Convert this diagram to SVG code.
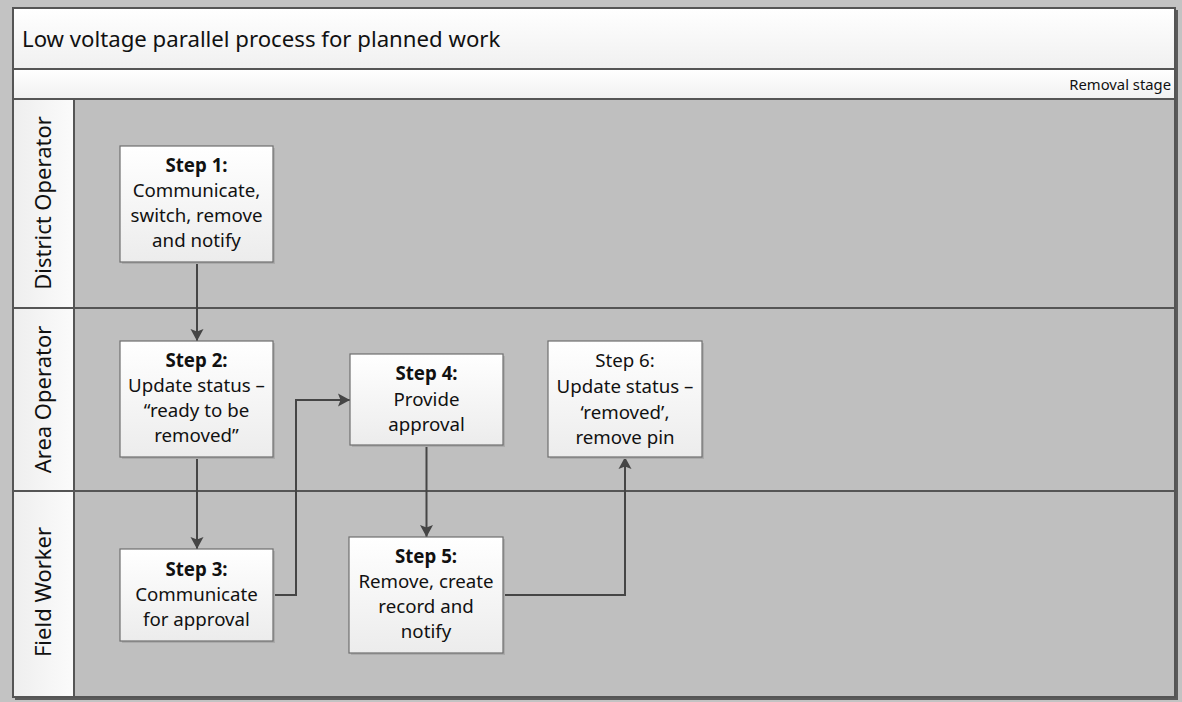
<svg xmlns="http://www.w3.org/2000/svg" width="1182" height="702" viewBox="0 0 1182 702">
<style>
.t{font-family:"Noto Sans","Open Sans","Liberation Sans",sans-serif;fill:#111;}
.bx{font-size:18.7px;text-anchor:middle;}
.b{font-weight:bold;}
.lane{font-size:22px;text-anchor:middle;}
.node rect.box{fill:url(#gBox);stroke:#6e6e6e;stroke-width:1.2;}
.node rect.sh{fill:#ababab;}
.conn path{fill:none;stroke:#454545;stroke-width:2;}
.sep{stroke:#555;stroke-width:2;fill:none;}
</style>
<defs>
<linearGradient id="gBox" x1="0" y1="0" x2="0" y2="1"><stop offset="0" stop-color="#ffffff"/><stop offset="1" stop-color="#ececec"/></linearGradient>
<linearGradient id="gHead" x1="0" y1="0" x2="0" y2="1"><stop offset="0" stop-color="#ffffff"/><stop offset="1" stop-color="#f0f0f0"/></linearGradient>
<linearGradient id="gCol" x1="0" y1="0" x2="1" y2="0"><stop offset="0" stop-color="#eeeeee"/><stop offset="1" stop-color="#fbfbfb"/></linearGradient>
<marker id="arr" markerWidth="14" markerHeight="14" refX="12" refY="7" orient="auto" markerUnits="userSpaceOnUse">
<path d="M0,0.5 L12,7 L0,13.5 L2.5,7 Z" fill="#454545"/>
</marker>
</defs>
<rect x="0" y="0" width="1182" height="702" fill="#c3c3c3"/>
<rect x="15" y="10" width="1163" height="690" fill="#5a5a5a"/>
<rect x="13" y="8" width="1162" height="61" fill="url(#gHead)"/>
<rect x="13" y="69" width="1162" height="30" fill="url(#gHead)"/>
<rect x="13" y="99" width="61" height="598" fill="url(#gCol)"/>
<rect x="74" y="99" width="1101" height="598" fill="#bfbfbf"/>
<g id="frame">
<rect x="13" y="8" width="1162" height="689" class="sep"/>
<line x1="13" y1="69" x2="1175" y2="69" class="sep"/>
<line x1="13" y1="99" x2="1175" y2="99" class="sep"/>
<line x1="74" y1="99" x2="74" y2="697" class="sep"/>
<line x1="13" y1="308" x2="1175" y2="308" class="sep"/>
<line x1="13" y1="491" x2="1175" y2="491" class="sep"/>
</g>
<text class="t" x="22" y="46.5" font-size="22.2">Low voltage parallel process for planned work</text>
<text class="t" x="1171" y="90" font-size="14.8" text-anchor="end">Removal stage</text>
<g id="lane-district"><text class="t lane" transform="translate(51,203) rotate(-90)">District Operator</text></g>
<g id="lane-area"><text class="t lane" transform="translate(51,399.5) rotate(-90)">Area Operator</text></g>
<g id="lane-field"><text class="t lane" transform="translate(51,592) rotate(-90)">Field Worker</text></g>

<g class="conn" id="connectors">
<path d="M197,262 V341" marker-end="url(#arr)"/>
<path d="M197,457 V549" marker-end="url(#arr)"/>
<path d="M273,595 H296 V400 H350" marker-end="url(#arr)"/>
<path d="M426.5,445 V537" marker-end="url(#arr)"/>
<path d="M503,595 H625 V457" marker-end="url(#arr)"/>
</g>

<g class="node" id="step1">
<rect class="sh" x="122" y="148" width="153" height="116"/>
<rect class="box" x="120" y="146" width="153" height="116"/>
<text class="t bx" x="196.5"><tspan class="b" x="196.5" y="172">Step 1:</tspan><tspan x="196.5" y="197">Communicate,</tspan><tspan x="196.5" y="222">switch, remove</tspan><tspan x="196.5" y="247">and notify</tspan></text>
</g>
<g class="node" id="step2">
<rect class="sh" x="122" y="343" width="153" height="116"/>
<rect class="box" x="120" y="341" width="153" height="116"/>
<text class="t bx" x="196.5"><tspan class="b" x="196.5" y="367">Step 2:</tspan><tspan x="196.5" y="392">Update status –</tspan><tspan x="196.5" y="417">“ready to be</tspan><tspan x="196.5" y="442">removed”</tspan></text>
</g>
<g class="node" id="step3">
<rect class="sh" x="122" y="551" width="153" height="92"/>
<rect class="box" x="120" y="549" width="153" height="92"/>
<text class="t bx" x="196.5"><tspan class="b" x="196.5" y="576">Step 3:</tspan><tspan x="196.5" y="601">Communicate</tspan><tspan x="196.5" y="626">for approval</tspan></text>
</g>
<g class="node" id="step4">
<rect class="sh" x="352" y="356" width="153" height="91"/>
<rect class="box" x="350" y="354" width="153" height="91"/>
<text class="t bx" x="426.5"><tspan class="b" x="426.5" y="380">Step 4:</tspan><tspan x="426.5" y="406">Provide</tspan><tspan x="426.5" y="431">approval</tspan></text>
</g>
<g class="node" id="step5">
<rect class="sh" x="351" y="539" width="154" height="116"/>
<rect class="box" x="349" y="537" width="154" height="116"/>
<text class="t bx" x="426"><tspan class="b" x="426" y="563">Step 5:</tspan><tspan x="426" y="588">Remove, create</tspan><tspan x="426" y="613">record and</tspan><tspan x="426" y="638">notify</tspan></text>
</g>
<g class="node" id="step6">
<rect class="sh" x="550" y="343" width="154" height="116"/>
<rect class="box" x="548" y="341" width="154" height="116"/>
<text class="t bx" x="625"><tspan x="625" y="367">Step 6:</tspan><tspan x="625" y="393">Update status –</tspan><tspan x="625" y="418.5">‘removed’,</tspan><tspan x="625" y="444">remove pin</tspan></text>
</g>
</svg>
